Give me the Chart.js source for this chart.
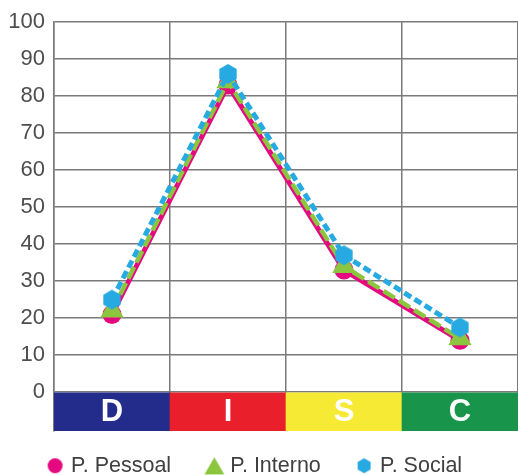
<!DOCTYPE html>
<html>
<head>
<meta charset="utf-8">
<script src="https://cdn.jsdelivr.net/npm/chart.js@4"></script>
<style>
  html, body { margin: 0; padding: 0; background: #fff; overflow: hidden; }
  #wrap { width: 518px; height: 475px; position: relative; }
</style>
</head>
<body>
<div id="wrap"><canvas id="discChart"></canvas></div>
<script>
// Data
const categories = ['D', 'I', 'S', 'C'];
const pessoal = [21, 83, 33, 14];
const interno = [22, 84, 34, 14.5];
const social = [25, 86, 37, 17.5];
const yTicks = [0, 10, 20, 30, 40, 50, 60, 70, 80, 90, 100];
const bandColors = ['#232c8b', '#e91f2b', '#f6ea35', '#18954a'];
const bandBottom = -10.5;

const PINK = '#e5097f', GREEN = '#8cc63f', CYAN = '#27aae1';

// small canvases used as markers
function makeMarker(kind, r, color) {
  const c = document.createElement('canvas');
  c.width = c.height = Math.ceil(r * 2) + 2;
  const ctx = c.getContext('2d');
  const cx = c.width / 2, cy = c.height / 2;
  ctx.fillStyle = color;
  ctx.beginPath();
  if (kind === 'circle') {
    ctx.arc(cx, cy, r, 0, Math.PI * 2);
  } else {
    const n = kind === 'hex' ? 6 : 3;
    const dy = kind === 'hex' ? 0 : r * 0.25;
    for (let i = 0; i < n; i++) {
      const a = Math.PI / 2 + i * 2 * Math.PI / n;
      const px = cx + r * Math.cos(a), py = cy + dy - r * Math.sin(a);
      if (i === 0) ctx.moveTo(px, py); else ctx.lineTo(px, py);
    }
  }
  ctx.closePath();
  ctx.fill();
  return c;
}

const hexPoint = makeMarker('hex', 10, CYAN);
const legendImgs = [
  makeMarker('circle', 7.5, PINK),
  makeMarker('tri', 11.5, GREEN),
  makeMarker('hex', 7.5, CYAN)
];

// letters on the coloured bands
const bandLetters = {
  id: 'bandLetters',
  afterDatasetsDraw(chart) {
    const meta = chart.getDatasetMeta(3);
    const ctx = chart.ctx;
    ctx.save();
    ctx.fillStyle = '#fff';
    ctx.font = 'bold 31px "Liberation Sans", Arial, sans-serif';
    ctx.textAlign = 'center';
    ctx.textBaseline = 'middle';
    meta.data.forEach((bar, i) => {
      ctx.fillText(categories[i], bar.x, (bar.y + bar.base) / 2 + 1);
    });
    ctx.restore();
  }
};

// legend keeps wide item spacing but sits low, near the bottom edge
const legendShift = {
  id: 'legendShift',
  afterLayout(chart) {
    chart.legend.top -= 14;
    chart.legend.left -= 5;
    chart.legend.right -= 5;
  }
};

new Chart(document.getElementById('discChart'), {
  data: {
    labels: categories,
    datasets: [
      {
        type: 'line',
        label: 'P. Pessoal',
        data: pessoal,
        borderColor: PINK,
        backgroundColor: PINK,
        borderWidth: 5,
        pointStyle: 'circle',
        pointRadius: 9.5,
        pointHoverRadius: 9.5,
        pointBorderWidth: 0,
        order: 3
      },
      {
        type: 'line',
        label: 'P. Interno',
        data: interno,
        borderColor: GREEN,
        backgroundColor: GREEN,
        borderWidth: 4.5,
        borderDash: [13, 5],
        pointStyle: 'triangle',
        pointRadius: 13.5,
        pointHoverRadius: 13.5,
        pointBorderWidth: 0,
        order: 2
      },
      {
        type: 'line',
        label: 'P. Social',
        data: social,
        borderColor: CYAN,
        backgroundColor: CYAN,
        borderWidth: 5,
        borderDash: [8, 4],
        pointStyle: hexPoint,
        pointBorderWidth: 0,
        order: 1
      },
      {
        type: 'bar',
        label: 'bands',
        data: categories.map(() => [bandBottom, 0]),
        backgroundColor: bandColors,
        barPercentage: 1,
        categoryPercentage: 1,
        order: 4
      }
    ]
  },
  options: {
    responsive: true,
    maintainAspectRatio: false,
    animation: false,
    layout: { autoPadding: false, padding: { top: 22, right: 0, left: 4, bottom: 0 } },
    scales: {
      x: {
        offset: true,
        grid: { offset: true, color: '#7a7a7a', lineWidth: 1.5, drawTicks: false },
        border: { display: false },
        ticks: { display: false }
      },
      y: {
        min: bandBottom,
        max: 100,
        afterBuildTicks(scale) {
          scale.ticks = yTicks.map(v => ({ value: v }));
        },
        afterFit(scale) { scale.width = 50; },
        grid: { color: '#7a7a7a', lineWidth: 1.5, drawTicks: false },
        border: { color: '#7a7a7a', width: 1.5 },
        ticks: {
          color: '#4d4d4d',
          padding: 9,
          font: { family: '"Liberation Sans", Arial, sans-serif', size: 22 }
        }
      }
    },
    plugins: {
      tooltip: { enabled: false },
      legend: {
        position: 'bottom',
        maxHeight: 44,
        labels: {
          usePointStyle: true,
          boxWidth: 10.5,
          boxHeight: 14,
          padding: 38,
          color: '#404040',
          font: { family: '"Liberation Sans", Arial, sans-serif', size: 21.5 },
          filter: item => item.text !== 'bands',
          sort: (a, b) => a.datasetIndex - b.datasetIndex,
          generateLabels(chart) {
            const items = Chart.defaults.plugins.legend.labels.generateLabels(chart);
            items.forEach(it => {
              if (legendImgs[it.datasetIndex]) it.pointStyle = legendImgs[it.datasetIndex];
            });
            return items;
          }
        }
      }
    }
  },
  plugins: [bandLetters, legendShift]
});
</script>
</body>
</html>
